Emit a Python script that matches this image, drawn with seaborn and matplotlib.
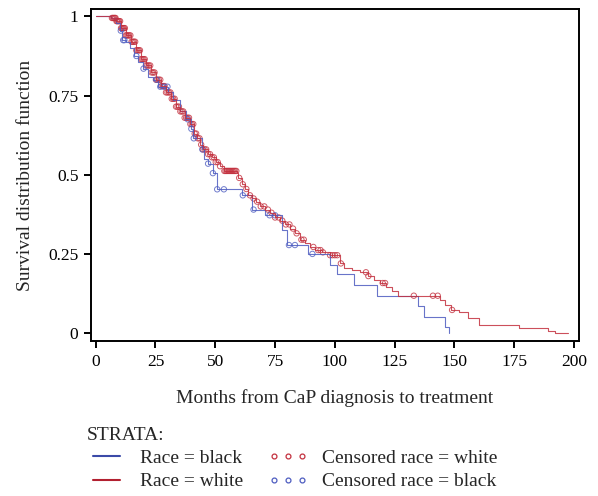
import numpy as np
import pandas as pd
import matplotlib
matplotlib.use("Agg")
import matplotlib.pyplot as plt
from matplotlib.lines import Line2D
import seaborn as sns

# step points (months, survival)
white_time = [0, 6.3, 8.4, 10.5, 12.6, 14.6, 16.7, 18.8, 20.9, 23.0, 25.1, 27.2, 29.3,
              31.4, 33.5, 35.1, 37.2, 39.3, 41.0, 42.3, 43.5, 44.8, 46.9, 48.5, 50.2,
              51.9, 53.6, 59.0, 59.4, 61.1, 62.3, 63.6, 65.3, 66.9, 68.6, 70.7, 72.8,
              74.9, 77.0, 79.1, 81.2, 83.3, 85.4, 87.4, 89.5, 91.6, 94.6, 97.9, 102.1,
              103.8, 107.1, 110.5, 113.8, 116.3, 118.8, 121.3, 123.8, 126.4, 143.9,
              146.0, 148.5, 151.9, 155.6, 160.3, 177.0, 189.1, 192.1, 197.5]
white_surv = [1.0, 0.995, 0.985, 0.963, 0.94, 0.92, 0.893, 0.865, 0.845, 0.823, 0.80,
              0.78, 0.76, 0.74, 0.715, 0.70, 0.68, 0.66, 0.63, 0.615, 0.595, 0.58,
              0.565, 0.555, 0.54, 0.527, 0.512, 0.505, 0.49, 0.47, 0.455, 0.435,
              0.425, 0.415, 0.40, 0.39, 0.38, 0.365, 0.355, 0.343, 0.33, 0.315,
              0.295, 0.283, 0.272, 0.262, 0.255, 0.246, 0.22, 0.207, 0.20, 0.192,
              0.18, 0.168, 0.158, 0.145, 0.133, 0.118, 0.104, 0.088, 0.073, 0.066,
              0.047, 0.024, 0.015, 0.006, 0.0, 0.0]

black_time = [0, 6.5, 8.4, 10.0, 10.9, 12.6, 14.2, 15.9, 17.6, 19.7, 21.8, 23.8, 25.9,
              30.1, 32.2, 35.1, 37.7, 39.7, 40.6, 44.4, 45.2, 46.9, 49.0, 50.6, 61.1,
              65.3, 70.7, 77.8, 79.9, 88.7, 97.9, 100.8, 107.9, 117.6, 134.7, 137.2,
              146.0, 147.7]
black_surv = [1.0, 0.995, 0.98, 0.955, 0.925, 0.92, 0.90, 0.875, 0.855, 0.835, 0.81,
              0.80, 0.778, 0.76, 0.735, 0.70, 0.675, 0.645, 0.615, 0.58, 0.55, 0.535,
              0.505, 0.454, 0.435, 0.39, 0.372, 0.325, 0.278, 0.25, 0.215, 0.186,
              0.151, 0.117, 0.085, 0.05, 0.02, 0.0]

# censoring times
white_cens = [6.8, 7.2, 7.6, 8.0, 8.3, 8.7, 9.0, 9.4, 9.8, 10.2, 10.6, 11.0, 11.4, 11.8,
              12.2, 12.6, 13.0, 13.5, 14.0, 14.5, 15.0, 15.5, 16.0, 16.5, 17.0, 17.5,
              18.0, 18.5, 19.0, 19.5, 20.0, 20.5, 21.0, 21.6, 22.2, 22.8, 23.4, 24.0,
              24.6, 25.2, 25.8, 26.4, 27.0, 27.6, 28.2, 28.8, 29.4, 30.0, 30.6, 31.2,
              31.8, 32.4, 33.0, 33.6, 34.2, 34.8, 35.4, 36.0, 36.6, 37.2, 37.8, 38.4,
              39.0, 39.6, 40.2, 40.8, 41.4, 42.0, 42.7, 43.4, 44.1, 44.8, 45.5, 46.2,
              47.0, 47.8, 48.6, 49.4, 50.2, 51.0, 52.0, 53.8, 54.3, 54.8, 55.3, 55.8,
              56.3, 56.8, 57.3, 57.8, 58.3, 58.8, 60.0, 61.5, 63.0, 64.5, 66.0, 67.5,
              69.0, 70.5, 72.0, 73.5, 75.0, 76.5, 78.0, 79.5, 81.0, 82.5, 84.0, 86.0,
              87.0, 91.0, 93.0, 94.0, 95.0, 98.0, 99.0, 100.0, 101.0, 102.5, 113.0,
              114.0, 120.0, 121.0, 133.0, 141.0, 143.0, 149.0]
black_cens = [10.5, 11.5, 12, 17, 20, 25.5, 27, 28.5, 30, 38.5, 40, 41, 44.6, 47, 49,
              50.8, 53.6, 61.5, 66, 72.7, 75, 80.8, 83.3, 90.6]

strata = ["Race = black", "Race = white"]
cens_labels = ["Censored race = white", "Censored race = black"]

blue = "#4d5cc0"
red = "#c3303e"


def surv_at(times, survs, t):
    i = np.searchsorted(times, t, side="right") - 1
    return np.asarray(survs)[i]


curves = pd.concat([
    pd.DataFrame({"time": black_time, "surv": black_surv, "strata": strata[0]}),
    pd.DataFrame({"time": white_time, "surv": white_surv, "strata": strata[1]}),
])
cens = pd.concat([
    pd.DataFrame({"time": white_cens,
                  "surv": surv_at(white_time, white_surv, white_cens),
                  "strata": strata[1]}),
    pd.DataFrame({"time": black_cens,
                  "surv": surv_at(black_time, black_surv, black_cens),
                  "strata": strata[0]}),
])

sns.set_style("ticks")
plt.rcParams["font.family"] = ["Liberation Serif", "DejaVu Serif"]

fig = plt.figure(figsize=(5.98, 4.96), dpi=100)
ax = fig.add_axes([0.152, 0.3125, 0.816, 0.6685])

pal = {strata[0]: blue, strata[1]: red}
sns.lineplot(data=curves, x="time", y="surv", hue="strata", palette=pal,
             drawstyle="steps-post", estimator=None, lw=0.8, alpha=0.85,
             legend=False, ax=ax)
sns.scatterplot(data=cens, x="time", y="surv", hue="strata", palette=pal,
                marker="o", s=15, linewidth=0.7, legend=False, ax=ax)
# open circles
for coll in ax.collections:
    fc = coll.get_facecolors()
    coll.set_edgecolors(fc)
    coll.set_facecolors("none")
    coll.set_alpha(0.8)

ax.set_xlim(-2, 202)
ax.set_ylim(-0.025, 1.022)
ax.set_xticks([0, 25, 50, 75, 100, 125, 150, 175, 200])
ax.set_yticks([0, 0.25, 0.5, 0.75, 1])
ax.set_yticklabels(["0", "0.25", "0.5", "0.75", "1"])
ax.tick_params(direction="out", length=5, width=1.4, labelsize=12.5, color="black",
               labelcolor="black", pad=4)
for sp in ax.spines.values():
    sp.set_linewidth(1.4)
    sp.set_color("black")
ax.set_xlabel("Months from CaP diagnosis to treatment", fontsize=14, labelpad=14)
ax.set_ylabel("Survival distribution function", fontsize=14, labelpad=10)

handles = [
    Line2D([], [], color="#3b4aa8", lw=1.5),
    Line2D([], [], color="#b22030", lw=1.5),
    Line2D([], [], color=red, ls="none", marker="o", ms=3.5, mfc="none", mew=0.9),
    Line2D([], [], color=blue, ls="none", marker="o", ms=3.5, mfc="none", mew=0.9),
]
labels = [strata[0], strata[1], cens_labels[0], cens_labels[1]]
leg = fig.legend(handles, labels, loc="upper left", bbox_to_anchor=(0.145, 0.14),
                 ncol=2, frameon=False, fontsize=14, title="STRATA:",
                 title_fontsize=14, alignment="left", numpoints=3,
                 handlelength=2.0, handletextpad=0.75, columnspacing=1.3,
                 labelspacing=0.3, borderaxespad=0, borderpad=0)

fig.savefig("out.png", dpi=100)
